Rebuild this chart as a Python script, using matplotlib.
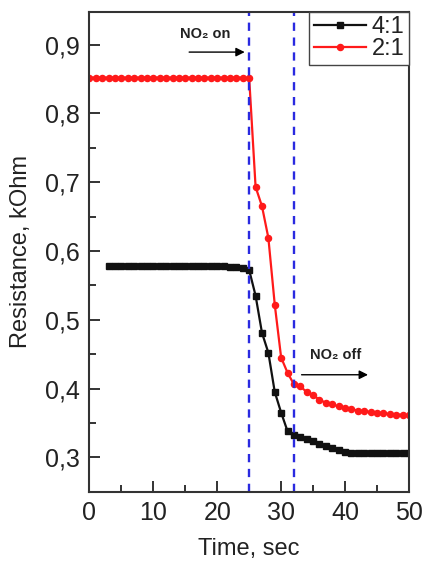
import numpy as np
import matplotlib
matplotlib.use("Agg")
import matplotlib.pyplot as plt
from matplotlib.ticker import MultipleLocator, FuncFormatter

# time axis (sec) and resistance (kOhm)
t_41 = [3, 4, 5, 6, 7, 8, 9, 10, 11, 12, 13, 14, 15, 16, 17, 18, 19, 20, 21,
        22, 23, 24, 25, 26, 27, 28, 29, 30, 31, 32, 33, 34, 35, 36, 37, 38,
        39, 40, 41, 42, 43, 44, 45, 46, 47, 48, 49, 50]
r_41 = [0.578, 0.578, 0.578, 0.578, 0.578, 0.578, 0.578, 0.578, 0.578, 0.578,
        0.578, 0.578, 0.578, 0.578, 0.578, 0.578, 0.578, 0.578, 0.578,
        0.577, 0.576, 0.575, 0.572, 0.535, 0.481, 0.452, 0.395, 0.365, 0.338,
        0.333, 0.329, 0.327, 0.324, 0.320, 0.316, 0.313, 0.310, 0.308, 0.307,
        0.306, 0.306, 0.306, 0.306, 0.306, 0.306, 0.306, 0.306, 0.306]

t_21 = [0, 1, 2, 3, 4, 5, 6, 7, 8, 9, 10, 11, 12, 13, 14, 15, 16, 17, 18, 19,
        20, 21, 22, 23, 24, 25, 26, 27, 28, 29, 30, 31, 32, 33, 34, 35, 36,
        37, 38, 39, 40, 41, 42, 43, 44, 45, 46, 47, 48, 49, 50]
r_21 = [0.852, 0.852, 0.852, 0.852, 0.852, 0.852, 0.852, 0.852, 0.852, 0.852,
        0.852, 0.852, 0.852, 0.852, 0.852, 0.852, 0.852, 0.852, 0.852, 0.852,
        0.852, 0.852, 0.852, 0.852, 0.852, 0.851, 0.693, 0.665, 0.619, 0.522,
        0.445, 0.423, 0.406, 0.403, 0.395, 0.390, 0.384, 0.379, 0.377, 0.374,
        0.372, 0.370, 0.368, 0.367, 0.366, 0.365, 0.364, 0.363, 0.362, 0.362,
        0.361]

gas_on, gas_off = 25, 32

plt.rcParams['font.family'] = ['Liberation Sans', 'DejaVu Sans']
ink = '#222222'


def comma(v, pos):
    return ('%.1f' % v).replace('.', ',')


fig = plt.figure(figsize=(4.27, 5.61), dpi=100)
ax = fig.add_axes([0.2096, 0.1235, 0.748, 0.856])

ax.plot(t_41, r_41, '-s', color='#111111', lw=1.6, ms=4.0, label='4:1')
ax.plot(t_21, r_21, '-o', color='#ff1a1a', lw=1.6, ms=4.4, label='2:1')

for x in (gas_on, gas_off):
    ax.axvline(x, color='#2a2ae0', lw=1.7, ls=(0, (3.5, 2.8)))

ax.annotate('', xy=(24.3, 0.889), xytext=(15.6, 0.889),
            arrowprops=dict(arrowstyle='-|>', color='k', lw=1.0,
                            mutation_scale=13, shrinkA=0, shrinkB=0))
ax.text(18.1, 0.915, 'NO\u2082 on', fontsize=10.5, fontweight='bold',
        ha='center', va='center', color=ink)
ax.annotate('', xy=(43.6, 0.420), xytext=(33.2, 0.420),
            arrowprops=dict(arrowstyle='-|>', color='k', lw=1.0,
                            mutation_scale=13, shrinkA=0, shrinkB=0))
ax.text(38.6, 0.448, 'NO\u2082 off', fontsize=10.5, fontweight='bold',
        ha='center', va='center', color=ink)

ax.set_xlim(0, 50)
ax.set_ylim(0.25, 0.948)
ax.xaxis.set_major_locator(MultipleLocator(10))
ax.xaxis.set_minor_locator(MultipleLocator(5))
ax.yaxis.set_major_locator(MultipleLocator(0.1))
ax.yaxis.set_minor_locator(MultipleLocator(0.05))
ax.yaxis.set_major_formatter(FuncFormatter(comma))
ax.tick_params(which='both', direction='in', width=1.4, color='#333333',
               labelsize=18, labelcolor=ink, top=False, right=False)
ax.tick_params(which='major', length=8, pad=7)
ax.tick_params(which='minor', length=5)
for s in ax.spines.values():
    s.set_linewidth(1.5)
    s.set_color('#333333')

ax.set_xlabel('Time, sec', fontsize=17, color=ink, labelpad=9)
ax.set_ylabel('Resistance, kOhm', fontsize=17, color=ink, labelpad=9)

leg = ax.legend(loc='upper right', fontsize=17, borderaxespad=0,
                fancybox=False, handlelength=2.2, handletextpad=0.25,
                borderpad=0.2, labelspacing=0.0, framealpha=1)
leg.get_frame().set_edgecolor('#444444')
leg.get_frame().set_linewidth(1.0)
for txt in leg.get_texts():
    txt.set_color(ink)

fig.savefig('out.png', dpi=100)
